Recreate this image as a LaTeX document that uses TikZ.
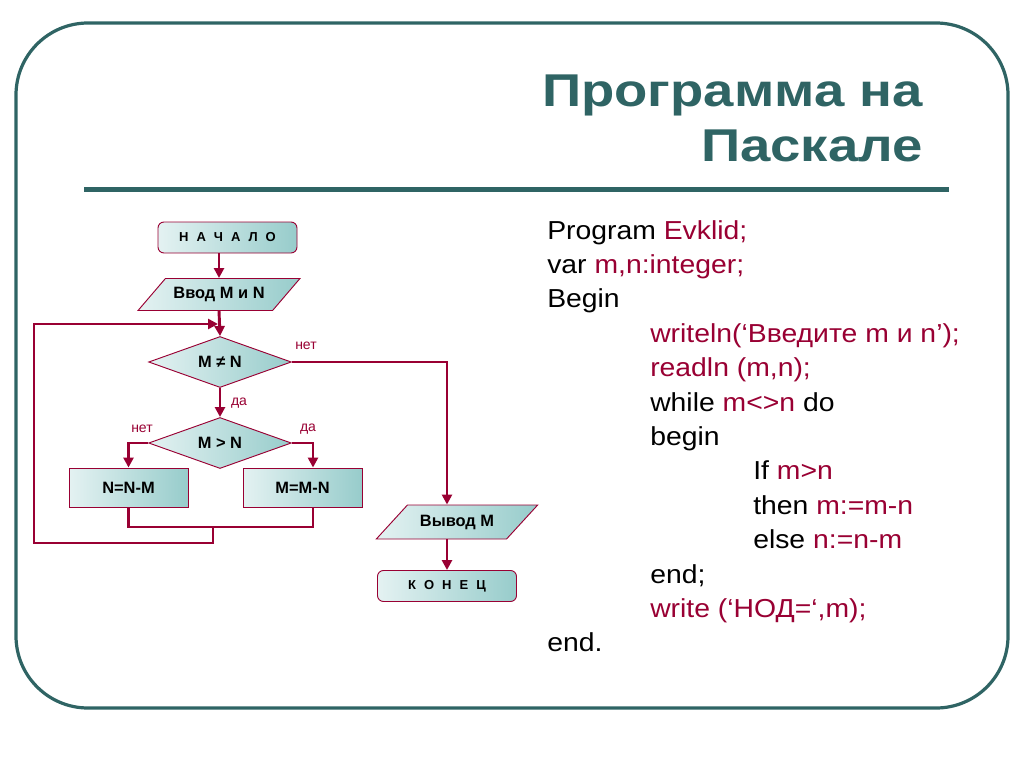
\documentclass[tikz,border=0pt]{standalone}
\usepackage{fontspec}
\usepackage{graphicx}
\setmainfont{Liberation Sans}
\usetikzlibrary{shapes.geometric,arrows.meta,calc}
\definecolor{frameC}{HTML}{2F6464}
\definecolor{lnC}{HTML}{990033}
\definecolor{boxL}{HTML}{E4F2F2}
\definecolor{boxR}{HTML}{97CCCB}
\newcommand\rd[1]{\textcolor{lnC}{#1}}
\newcommand\cs[1]{\scalebox{1.09}[1]{#1}}
\tikzset{
  ln/.style={draw=lnC, line width=2.2pt},
  arr/.style={ln, -{Triangle[length=7.5pt,width=7.5pt]}},
  boxbase/.style={draw=lnC, line width=0.7pt, left color=boxL, right color=boxR,
    inner sep=0pt, font=\bfseries\fontsize{12.3}{14}\selectfont},
  term/.style={boxbase, rectangle, rounded corners=4.5pt, minimum width=104.25pt,
    minimum height=23.25pt, font=\bfseries\fontsize{9.75}{12}\selectfont},
  proc/.style={boxbase, rectangle, minimum width=89.25pt, minimum height=29.25pt},
  dec/.style={boxbase, diamond, aspect=2.8, minimum width=107pt, minimum height=38.25pt},
  io/.style={boxbase, trapezium, trapezium left angle=32, trapezium right angle=148,
    trapezium stretches=true, minimum width=121.5pt, minimum height=24pt},
  lab/.style={text=lnC, inner sep=0pt, font=\fontsize{10.5}{12}\selectfont},
  code/.style={anchor=base west, inner sep=0pt, font=\fontsize{19.5}{22}\selectfont},
  ttl/.style={anchor=base east, inner sep=0pt, text=frameC, font=\bfseries\fontsize{34.5}{36}\selectfont}
}
\begin{document}
\begin{tikzpicture}[x=0.75pt,y=-0.75pt]
\path[use as bounding box, fill=white] (0,0) rectangle (1024,767);
% frame
\draw[frameC, line width=2.4pt, rounded corners=54pt] (16,23) rectangle (1008,708);
\draw[frameC, line width=3.75pt] (84,189) -- (949,189);
% title
\node[ttl] (t1) at (923,106) {\scalebox{1.185}[1]{Программа на}};
\node[ttl] (t2) at (923,161) {\scalebox{1.185}[1]{Паскале}};

% flowchart nodes
\node[term] (nachalo) at (227.5,237.5) {Н\hspace{6pt}А\hspace{6pt}Ч\hspace{6pt}А\hspace{6pt}Л\hspace{6pt}О};
\node[io] (vvod) at (219,294.5) {Ввод M и N};
\node[dec] (mneqn) at (220,362) {M ≠ N};
\node[dec] (mgtn) at (220,443) {M > N};
\node[proc] (nnm) at (128.5,487.5) {N=N-M};
\node[proc] (mmn) at (302.5,487.5) {M=M-N};
\node[io, minimum height=25.5pt] (vyvod) at (457,522) {Вывод M};
\node[term] (konec) at (447,586) {К\hspace{6pt}О\hspace{6pt}Н\hspace{6pt}Е\hspace{6pt}Ц};

% labels
\node[lab] (l1) at (306,346) {нет};
\node[lab] (l2) at (239,403) {да};
\node[lab] (l3) at (142,429) {нет};
\node[lab] (l4) at (308,429) {да};

% helper coordinates
\coordinate (join) at (213,527);
\coordinate (loopc) at (34,543);
\coordinate (entry) at (218,324);
\coordinate (rcol) at ($(mmn.north)+(10.5,0)$);

% connectors
\draw[arr] (nachalo.south -| vvod.north) -- (vvod.north);
\draw[arr] (vvod.south) -- (mneqn.north);
\draw[arr] (mneqn.south) -- (mgtn.north);
\draw[arr] (mgtn.west) -| (nnm.north);
\draw[arr] (mgtn.east) -| (rcol);
\draw[ln] (nnm.south) |- (join) -| (rcol |- mmn.south);
\draw[arr] (join) |- (loopc) |- (entry);
\draw[arr] (mneqn.east) -| (vyvod.north -| konec.north);
\draw[arr] (vyvod.south -| konec.north) -- (konec.north);

% code
\node[code] (c0) at (547,239) {\cs{Program \rd{Evklid;}}};
\node[code] (c1) at (547,273.4) {\cs{var \rd{m,n:integer;}}};
\node[code] (c2) at (547,307.8) {\cs{Begin}};
\node[code] (c3) at (650,342.2) {\cs{\rd{writeln(‘Введите m и n’);}}};
\node[code] (c4) at (650,376.6) {\cs{\rd{readln (m,n);}}};
\node[code] (c5) at (650,411) {\cs{while \rd{m<>n} do}};
\node[code] (c6) at (650,445.4) {\cs{begin}};
\node[code] (c7) at (753,479.8) {\cs{If \rd{m>n}}};
\node[code] (c8) at (753,514.2) {\cs{then \rd{m:=m-n}}};
\node[code] (c9) at (753,548.6) {\cs{else \rd{n:=n-m}}};
\node[code] (c10) at (650,583) {\cs{end;}};
\node[code] (c11) at (650,617.4) {\cs{\rd{write (‘НОД=‘,m);}}};
\node[code] (c12) at (547,651.8) {\cs{end.}};
\end{tikzpicture}
\end{document}
